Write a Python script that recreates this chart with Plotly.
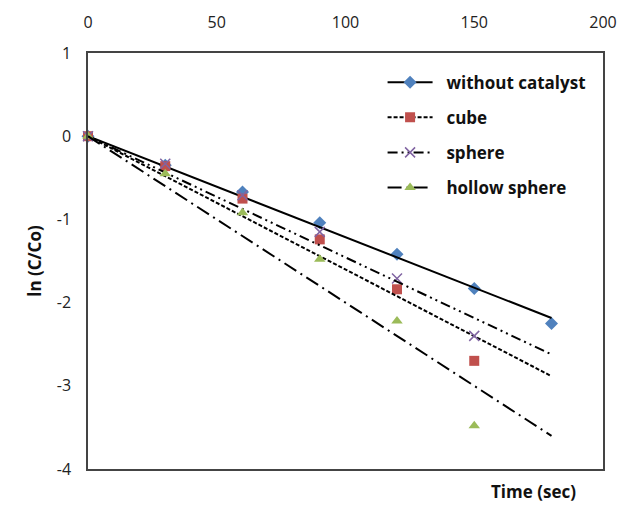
import numpy as np
import plotly.graph_objects as go

time_sec = [0, 30, 60, 90, 120, 150, 180]
without_catalyst = [0, -0.35, -0.67, -1.04, -1.42, -1.83, -2.25]
cube = [0, -0.36, -0.75, -1.24, -1.84, -2.70]
sphere = [0, -0.33, -0.71, -1.15, -1.71, -2.40]
hollow_sphere = [0, -0.45, -0.92, -1.48, -2.22, -3.48]

series_names = ["without catalyst", "cube", "sphere", "hollow sphere"]
x_ticks = [0, 50, 100, 150, 200]
y_ticks = [-4, -3, -2, -1, 0, 1]
y_tick_labels = ["-4", "-3", "-2", "-1", "0", "1"]

series = [without_catalyst, cube, sphere, hollow_sphere]
symbols = ["diamond", "square", "x-thin", "triangle-up"]
colors = ["#4F81BD", "#C0504D", "#8064A2", "#9BBB59"]
dashes = ["solid", "4px,2px", "10px,4px,2px,4px,2px,4px", "14px,5px,2px,5px"]
sizes = [10, 10, 10, 10]

fig = go.Figure()
trend_x = np.array([0, 180])
for i, (name, ys) in enumerate(zip(series_names, series)):
    xs = np.array(time_sec[:len(ys)], dtype=float)
    yv = np.array(ys, dtype=float)
    slope = (xs * yv).sum() / (xs * xs).sum()  # linear trendline, intercept 0
    mk = dict(symbol=symbols[i], color=colors[i], size=sizes[i])
    if symbols[i] == "x-thin":
        mk["line"] = dict(color=colors[i], width=1.5)
    fig.add_trace(go.Scatter(x=xs, y=yv, mode="markers", marker=mk,
                             showlegend=False, cliponaxis=False))
    fig.add_trace(go.Scatter(x=trend_x, y=slope * trend_x, mode="lines",
                             line=dict(color="black", width=2, dash=dashes[i]),
                             showlegend=False, hoverinfo="skip"))
    fig.add_trace(go.Scatter(x=[None], y=[None], mode="lines+markers",
                             name="&nbsp;&nbsp;<b>" + name + "</b>",
                             marker=mk, legendgroup=name,
                             line=dict(color="black", width=2, dash=dashes[i])))

fig.update_layout(
    width=619, height=505,
    margin=dict(l=88, r=16, t=53, b=36),
    paper_bgcolor="white", plot_bgcolor="white",
    font=dict(family="Open Sans", size=16, color="#222"),
    xaxis=dict(range=[0, 200], tickvals=x_ticks, side="top", showgrid=False,
               zeroline=False, showline=True, mirror=True, linecolor="#444",
               linewidth=1.5, ticks="", ticklabelstandoff=17, automargin=False,
               ticklabeloverflow="allow"),
    yaxis=dict(range=[-4, 1], tickvals=y_ticks, ticktext=y_tick_labels,
               showgrid=False, zeroline=False, automargin=False,
               showline=True, mirror=True, linecolor="#444", linewidth=1.5,
               ticks="", ticklabelstandoff=12,
               title=dict(text="<b>ln (C/Co)</b>", font=dict(size=17, color="#111"), standoff=11)),
    legend=dict(x=0.572, y=0.972, xanchor="left", yanchor="top",
                bgcolor="rgba(0,0,0,0)", font=dict(size=17, color="#111"),
                itemwidth=45, tracegroupgap=10, traceorder="grouped"),
    showlegend=True,
)
fig.add_annotation(text="<b>Time (sec)</b>", xref="paper", yref="paper",
                   x=0.866, y=-0.055, xanchor="center", yanchor="middle",
                   showarrow=False, font=dict(size=17, color="#111"))
fig.write_html("out.html", config={"displayModeBar": False},
               post_script="document.body.style.margin='0';document.body.style.overflow='hidden';")
